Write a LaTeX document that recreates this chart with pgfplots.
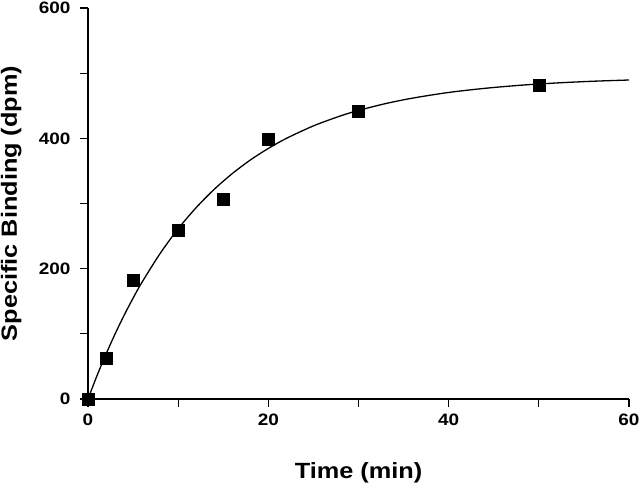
\documentclass[border=0pt]{standalone}
\usepackage{graphicx}
\usepackage{fontspec}
\setmainfont{Liberation Sans}
\usepackage{pgfplots}
\pgfplotsset{compat=1.18}
\newcommand\sx[1]{\scalebox{1.15}[1]{#1}}
\begin{document}
\begin{tikzpicture}
\path[use as bounding box] (-88pt,-85pt) rectangle (552pt,399pt);
\begin{axis}[
  scale only axis,
  width=541pt, height=391pt,
  at={(0pt,0pt)}, anchor=south west,
  xmin=0, xmax=60, ymin=0, ymax=600,
  axis lines*=left,
  axis line style={line width=1.6pt},
  clip=false,
  tick align=outside,
  major tick length=8pt, minor tick length=8pt,
  every tick/.style={line width=1.3pt, black},
  xtick={0,20,40,60}, xticklabels={\sx{0},\sx{20},\sx{40},\sx{60}},
  ytick={0,200,400,600}, yticklabels={\sx{0},\sx{200},\sx{400},\sx{600}},
  minor xtick={10,30,50}, minor ytick={100,300,500},
  tick label style={font=\fontsize{16.5}{19}\selectfont\bfseries},
  xticklabel style={yshift=-3pt},
  yticklabel style={xshift=-6pt},
  xlabel={\sx{Time (min)}},
  ylabel={\sx{Specific Binding (dpm)}},
  label style={font=\fontsize{22}{26}\selectfont\bfseries},
  xlabel style={at={(rel axis cs:0.5,0)}, anchor=base, yshift=-80pt},
  ylabel style={at={(rel axis cs:0,0.5)}, anchor=base, yshift=71pt},
]
\addplot[black, line width=1.3pt, smooth] coordinates {
(0,0) (1,35.8) (2,68.9) (3,99.7) (4,128.3) (5,154.8) (6,179.4) (8,223.3)
(10,261.2) (12,293.7) (14,321.8) (16,345.9) (18,366.7) (20,384.5) (22,399.9)
(25,419.1) (28,434.4) (30,442.8) (33,453.3) (36,461.7) (40,470.4) (44,476.7)
(48,481.5) (52,485.0) (56,487.6) (60,489.5)};
\addplot[only marks, mark=square*, mark size=6pt, black] coordinates {
(0,0) (2,62.5) (5,181.6) (10,259.3) (15,306.4) (20,398.5) (30,442.4) (50,481.8)};
\end{axis}
\end{tikzpicture}
\end{document}
